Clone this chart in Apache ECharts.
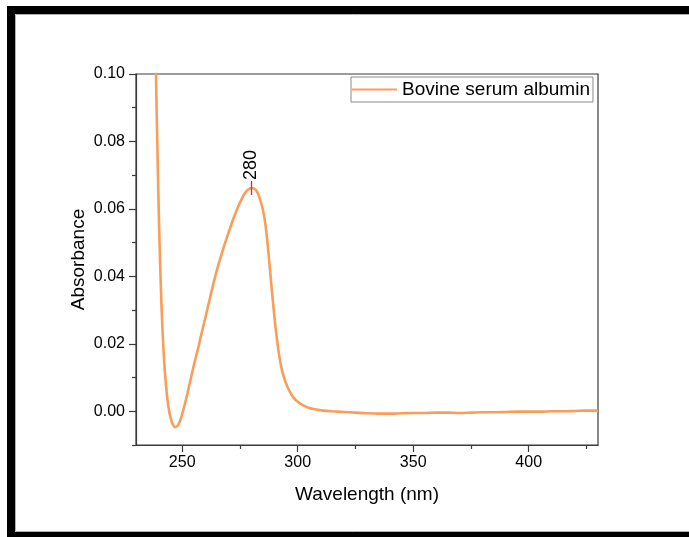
<!DOCTYPE html>
<html>
<head>
<meta charset="utf-8">
<script src="https://cdn.jsdelivr.net/npm/echarts@6/dist/echarts.min.js"></script>
<style>
  html, body { margin: 0; padding: 0; background: #fff; }
  #chart { width: 689px; height: 537px; }
</style>
</head>
<body>
<div id="chart"></div>
<script>
// ---- data ----
const seriesName = 'Bovine serum albumin';
const wavelength = [
  238, 239, 240, 241, 242, 243, 244, 245, 246, 247, 248, 249, 250, 251, 252, 253, 254, 255, 256, 257,
  258, 260, 262, 264, 266, 268, 270, 272, 274, 276, 278, 280, 281, 282, 283, 284, 285, 286, 287, 288,
  289, 290, 291, 292, 293, 294, 295, 296, 297, 298, 300, 302, 305, 308, 311, 315, 320, 325, 330, 335,
  340, 345, 350, 355, 360, 365, 370, 375, 380, 385, 390, 395, 400, 405, 410, 415, 420, 425, 430
];
const absorbance = [
  0.125, 0.087, 0.055, 0.032, 0.017, 0.0075, 0.0015, -0.0020, -0.0040, -0.0047, -0.0043, -0.0030, -0.0008, 0.0018, 0.0045, 0.0075, 0.0105, 0.0135, 0.0163, 0.0190,
  0.0220, 0.0277, 0.0335, 0.0392, 0.0442, 0.0487, 0.0528, 0.0568, 0.0603, 0.0633, 0.0654, 0.0662, 0.0661, 0.0655, 0.0642, 0.0622, 0.0595, 0.0555, 0.0495, 0.0420,
  0.0345, 0.0275, 0.0215, 0.0165, 0.0128, 0.0102, 0.0082, 0.0066, 0.0053, 0.0042, 0.0028, 0.0019, 0.0010, 0.0005, 0.0002, 0.0000, -0.0002, -0.0004, -0.0006, -0.0007,
  -0.0007, -0.0006, -0.0005, -0.0005, -0.0004, -0.0004, -0.0005, -0.0004, -0.0003, -0.0003, -0.0002, -0.0001, -0.0001, -0.0001, 0.0000, 0.0000, 0.0001, 0.0002, 0.0002
];
const xMajorTicks = [250, 300, 350, 400];
const xMinorTicks = [275, 325, 375, 425];
const yMajorTicks = [0.00, 0.02, 0.04, 0.06, 0.08, 0.10];
const yMinorTicks = [-0.01, 0.01, 0.03, 0.05, 0.07, 0.09];
const peakWavelength = 280;
const peakAbsorbance = 0.0662;
const peakLabel = '280';

// ---- chart ----
const points = wavelength.map((w, i) => [w, absorbance[i]]);
const axisColor = '#3a3a3a';
const fontFamily = '"Liberation Sans", Arial, sans-serif';

const chart = echarts.init(document.getElementById('chart'), null, { renderer: 'canvas' });
chart.setOption({
  backgroundColor: '#ffffff',
  animation: false,
  textStyle: { fontFamily: fontFamily },
  graphic: [
    { type: 'rect', shape: { x: 11, y: 10, width: 900, height: 526 }, style: { fill: 'none', stroke: '#000', lineWidth: 8 }, z: 100 },
    { type: 'rect', shape: { x: 15.5, y: 14.5, width: 900, height: 517 }, style: { fill: 'none', stroke: '#b0b0b0', lineWidth: 1 }, z: 100 }
  ],
  grid: { left: 136, right: 91, top: 74, bottom: 92, show: true, borderColor: axisColor, borderWidth: 1.2, backgroundColor: 'transparent' },
  legend: {
    left: 351, top: 77,
    padding: [3, 3, 3, 1],
    borderColor: '#8a8a8a', borderWidth: 1,
    itemWidth: 45, itemHeight: 2,
    textStyle: { fontSize: 19, color: '#000', fontFamily: fontFamily },
    data: [{ name: seriesName, icon: 'rect' }]
  },
  xAxis: [
    {
      type: 'value', min: 230, max: 430, position: 'bottom',
      name: 'Wavelength (nm)', nameLocation: 'middle', nameGap: 40, nameMoveOverlap: false,
      nameTextStyle: { fontSize: 19, color: '#000', fontFamily: fontFamily },
      axisLine: { show: true, onZero: false, lineStyle: { color: axisColor, width: 1.2 } },
      axisTick: { show: true, customValues: xMajorTicks, length: 7, lineStyle: { color: axisColor, width: 1.2 } },
      axisLabel: { show: true, customValues: xMajorTicks, fontSize: 16, color: '#000', margin: 10, fontFamily: fontFamily },
      splitLine: { show: false }
    },
    {
      type: 'value', min: 230, max: 430, position: 'bottom',
      axisLine: { show: false, onZero: false },
      axisTick: { show: true, customValues: xMinorTicks, length: 4, lineStyle: { color: axisColor, width: 1.2 } },
      axisLabel: { show: false },
      splitLine: { show: false }
    }
  ],
  yAxis: [
    {
      type: 'value', min: -0.01, max: 0.10, position: 'left',
      name: 'Absorbance', nameLocation: 'middle', nameGap: 48, nameMoveOverlap: false,
      nameTextStyle: { fontSize: 19, color: '#000', fontFamily: fontFamily },
      axisLine: { show: true, onZero: false, lineStyle: { color: axisColor, width: 1.2 } },
      axisTick: { show: true, customValues: yMajorTicks, length: 7, lineStyle: { color: axisColor, width: 1.2 } },
      axisLabel: { show: true, customValues: yMajorTicks, fontSize: 16, color: '#000', margin: 11, fontFamily: fontFamily,
        formatter: v => v.toFixed(2) },
      splitLine: { show: false }
    },
    {
      type: 'value', min: -0.01, max: 0.10, position: 'left',
      axisLine: { show: false, onZero: false },
      axisTick: { show: true, customValues: yMinorTicks, length: 4, lineStyle: { color: axisColor, width: 1.2 } },
      axisLabel: { show: false },
      splitLine: { show: false }
    }
  ],
  series: [
    {
      name: seriesName,
      type: 'line',
      xAxisIndex: 0, yAxisIndex: 0,
      data: points,
      showSymbol: false,
      smooth: 0.35,
      clip: true,
      lineStyle: { color: '#f99d59', width: 2.6 },
      itemStyle: { color: '#f99d59' },
      markPoint: {
        silent: true,
        symbol: 'rect',
        symbolSize: [1.3, 14],
        symbolOffset: [0, 0],
        itemStyle: { color: '#e8202a' },
        label: {
          show: true, formatter: peakLabel, position: 'top', distance: 1,
          rotate: 90, align: 'left', verticalAlign: 'middle',
          fontSize: 18, color: '#000', fontFamily: fontFamily
        },
        data: [{ coord: [peakWavelength, peakAbsorbance] }]
      }
    }
  ]
});
</script>
</body>
</html>
